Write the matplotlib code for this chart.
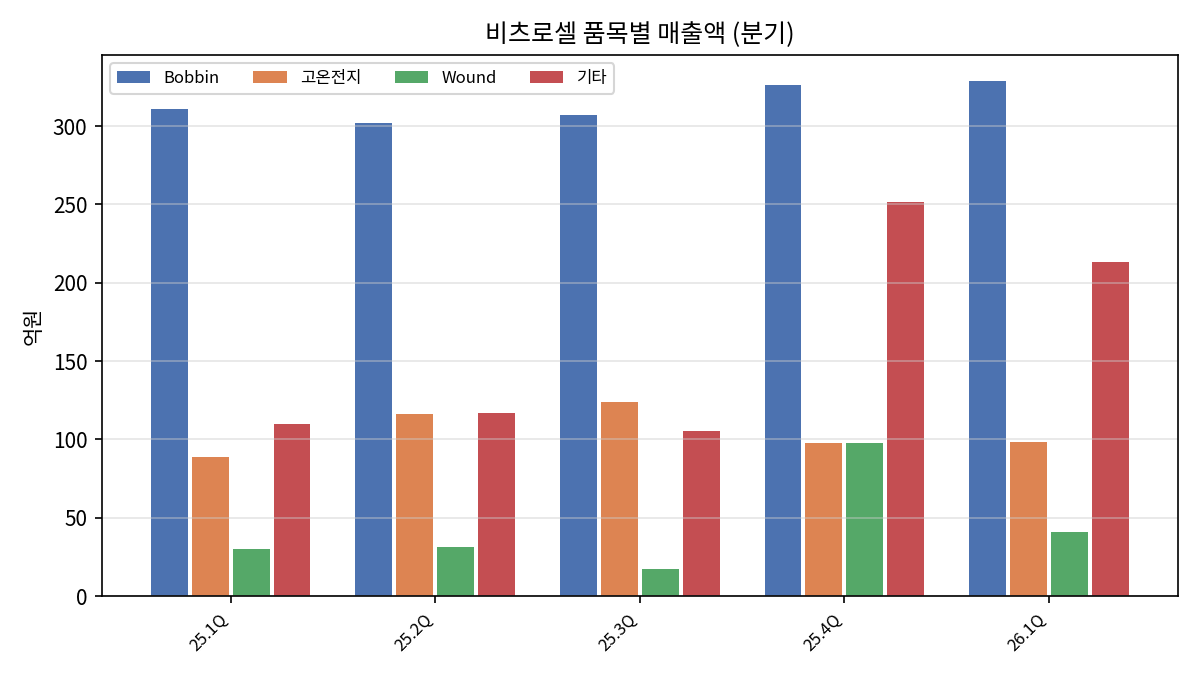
import numpy as np
import matplotlib
matplotlib.use("Agg")
import matplotlib.pyplot as plt

plt.rcParams['font.family'] = ['Noto Sans CJK KR', 'DejaVu Sans']
plt.rcParams['axes.unicode_minus'] = False

# 분기별 품목 매출 (억원)
quarters = ['25.1Q', '25.2Q', '25.3Q', '25.4Q', '26.1Q']
items = ['Bobbin', '고온전지', 'Wound', '기타']
bobbin = [311, 302, 307, 326, 329]
hot_cell = [89, 116, 124, 98, 98.5]
wound = [30, 31, 17, 98, 41]
etc = [110, 117, 105.5, 251.5, 213.5]
colors = ['#4C72B0', '#DD8452', '#55A868', '#C44E52']

series = [bobbin, hot_cell, wound, etc]
x = np.arange(len(quarters))
slot = 0.2

fig, ax = plt.subplots(figsize=(8, 4.5), dpi=150)
for i, (name, vals) in enumerate(zip(items, series)):
    ax.bar(x + (i - 1.5) * slot, vals, width=slot * 0.9, color=colors[i], label=name)

ax.set_title('비츠로셀 품목별 매출액 (분기)', fontsize=12)
ax.set_ylabel('억원')
ax.set_xticks(x)
ax.set_xticklabels(quarters, rotation=45, ha='right', fontsize=8)
ax.grid(axis='y', color='#cccccc', alpha=0.5, linewidth=0.8)
ax.legend(ncol=4, loc='upper left', fontsize=8)

fig.tight_layout()
fig.subplots_adjust(bottom=0.117)
fig.savefig('out.png', dpi=150)
